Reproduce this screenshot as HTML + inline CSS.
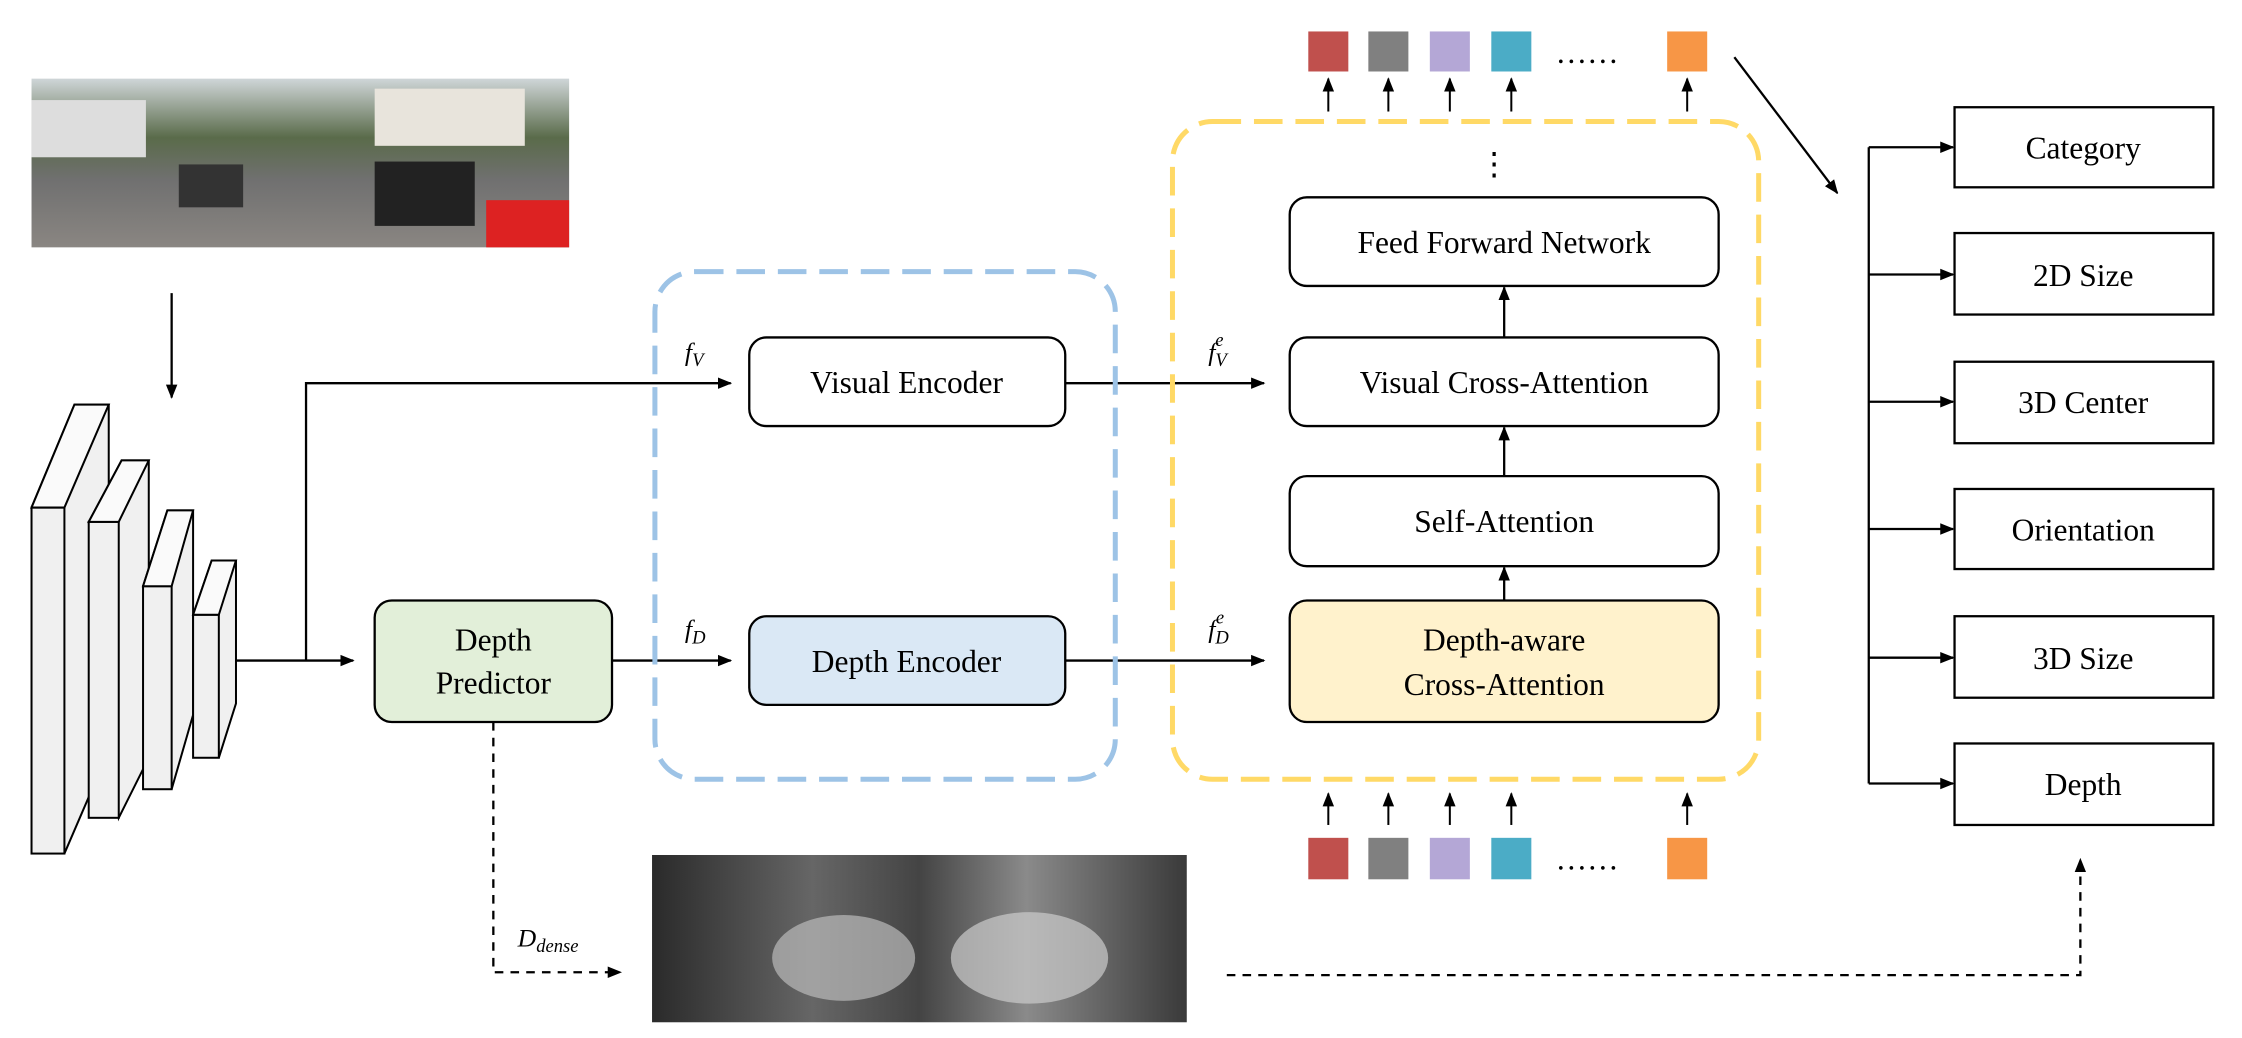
<!DOCTYPE html>
<html><head><meta charset="utf-8"><style>html,body{margin:0;padding:0;background:#fff;}svg{display:block}</style></head>
<body>
<svg width="2242" height="1038" viewBox="0 0 1568 726" xmlns="http://www.w3.org/2000/svg" font-family="Liberation Serif, serif">
<defs>
<marker id="a" markerWidth="10" markerHeight="10" refX="9" refY="5" orient="auto" markerUnits="userSpaceOnUse"><path d="M0,1 L10,5 L0,9 Z" fill="#000"/></marker>
<linearGradient id="ph" x1="0" y1="0" x2="0" y2="1"><stop offset="0" stop-color="#cfd6d8"/><stop offset="0.35" stop-color="#5a6b4a"/><stop offset="0.6" stop-color="#707070"/><stop offset="1" stop-color="#8a8682"/></linearGradient>
<linearGradient id="dp" x1="0" y1="0" x2="1" y2="0"><stop offset="0" stop-color="#2a2a2a"/><stop offset="0.3" stop-color="#666"/><stop offset="0.5" stop-color="#444"/><stop offset="0.7" stop-color="#8a8a8a"/><stop offset="1" stop-color="#3a3a3a"/></linearGradient>
</defs>
<rect width="1568" height="726" fill="#fff"/>
<!-- photo -->
<rect x="22" y="55" width="376" height="118" fill="url(#ph)"/>
<rect x="262" y="62" width="105" height="40" fill="#e8e4dc"/>
<rect x="22" y="70" width="80" height="40" fill="#ddd"/>
<rect x="262" y="113" width="70" height="45" fill="#222"/>
<rect x="125" y="115" width="45" height="30" fill="#333"/>
<rect x="340" y="140" width="58" height="33" fill="#d22"/>
<line x1="120" y1="205" x2="120" y2="278" stroke="#000" stroke-width="1.6" marker-end="url(#a)"/>
<!-- backbone blocks -->
<g stroke="#000" stroke-width="1.4" fill="#f0f0f0">
<path d="M22,355 L52,283 L76,283 L76,525 L45,597 Z"/><rect x="22" y="355" width="23" height="242"/><path d="M22,355 L52,283 L76,283 L45,355 Z" fill="#fafafa"/>
<path d="M62,365 L85,322 L104,322 L104,530 L83,572 Z"/><rect x="62" y="365" width="21" height="207"/><path d="M62,365 L85,322 L104,322 L83,365 Z" fill="#fafafa"/>
<path d="M100,410 L117,357 L135,357 L135,500 L120,552 Z"/><rect x="100" y="410" width="20" height="142"/><path d="M100,410 L117,357 L135,357 L120,410 Z" fill="#fafafa"/>
<path d="M135,430 L148,392 L165,392 L165,492 L153,530 Z"/><rect x="135" y="430" width="18" height="100"/><path d="M135,430 L148,392 L165,392 L153,430 Z" fill="#fafafa"/>
</g>
<g stroke="#000" stroke-width="1.6" fill="none">
<line x1="165" y1="462" x2="247" y2="462" marker-end="url(#a)"/>
<polyline points="214,462 214,268 511,268" marker-end="url(#a)"/>
<line x1="428" y1="462" x2="511" y2="462" marker-end="url(#a)"/>
<line x1="745" y1="268" x2="884" y2="268" marker-end="url(#a)"/>
<line x1="745" y1="462" x2="884" y2="462" marker-end="url(#a)"/>
<line x1="1052" y1="333" x2="1052" y2="299" marker-end="url(#a)"/>
<line x1="1052" y1="236" x2="1052" y2="201" marker-end="url(#a)"/>
<line x1="1052" y1="420" x2="1052" y2="397" marker-end="url(#a)"/>
<line x1="1213" y1="40" x2="1285" y2="135" marker-end="url(#a)"/>
<line x1="1307" y1="103" x2="1307" y2="548"/>
</g>
<g stroke="#000" stroke-width="1.6" stroke-dasharray="6,5" fill="none">
<polyline points="345,505 345,680 434,680" marker-end="url(#a)"/>
<polyline points="858,682 1455,682 1455,601" marker-end="url(#a)"/>
</g>
<!-- dashed containers -->
<rect x="458" y="190" width="322" height="355" rx="28" fill="none" stroke="#9dc3e6" stroke-width="3.5" stroke-dasharray="20,9"/>
<rect x="820" y="85" width="410" height="460" rx="28" fill="none" stroke="#ffd966" stroke-width="3.5" stroke-dasharray="20,9"/>
<g stroke="#000" stroke-width="1.6">
<rect x="262" y="420" width="166" height="85" rx="12" fill="#e2efd9"/>
<rect x="524" y="236" width="221" height="62" rx="12" fill="#fff"/>
<rect x="524" y="431" width="221" height="62" rx="12" fill="#dae8f5"/>
<rect x="902" y="138" width="300" height="62" rx="12" fill="#fff"/>
<rect x="902" y="236" width="300" height="62" rx="12" fill="#fff"/>
<rect x="902" y="333" width="300" height="63" rx="12" fill="#fff"/>
<rect x="902" y="420" width="300" height="85" rx="12" fill="#fff2cc"/>
<rect x="1367" y="75" width="181" height="56" fill="#fff"/>
<rect x="1367" y="163" width="181" height="57" fill="#fff"/>
<rect x="1367" y="253" width="181" height="57" fill="#fff"/>
<rect x="1367" y="342" width="181" height="56" fill="#fff"/>
<rect x="1367" y="431" width="181" height="57" fill="#fff"/>
<rect x="1367" y="520" width="181" height="57" fill="#fff"/>
</g>
<g stroke="#000" stroke-width="1.6" marker-end="url(#a)">
<line x1="1307" y1="103" x2="1366" y2="103"/><line x1="1307" y1="192" x2="1366" y2="192"/><line x1="1307" y1="281" x2="1366" y2="281"/><line x1="1307" y1="370" x2="1366" y2="370"/><line x1="1307" y1="460" x2="1366" y2="460"/><line x1="1307" y1="548" x2="1366" y2="548"/>
</g>
<g font-size="22" text-anchor="middle" fill="#000">
<text x="345" y="455">Depth</text><text x="345" y="485">Predictor</text>
<text x="634" y="275">Visual Encoder</text>
<text x="634" y="470">Depth Encoder</text>
<text x="1052" y="177">Feed Forward Network</text>
<text x="1052" y="275">Visual Cross-Attention</text>
<text x="1052" y="372">Self-Attention</text>
<text x="1052" y="455">Depth-aware</text><text x="1052" y="486">Cross-Attention</text>
<text x="1457" y="111">Category</text><text x="1457" y="200">2D Size</text><text x="1457" y="289">3D Center</text><text x="1457" y="378">Orientation</text><text x="1457" y="468">3D Size</text><text x="1457" y="556">Depth</text>
<text x="1045" y="122">⋮</text>
<text x="1110" y="44">……</text><text x="1110" y="608">……</text>
</g>
<g font-size="18" font-style="italic">
<text x="479" y="252">f<tspan font-size="13" dy="4">V</tspan></text>
<text x="479" y="446">f<tspan font-size="13" dy="4">D</tspan></text>
<text x="845" y="252">f<tspan font-size="13" dy="4">V</tspan><tspan font-size="13" dx="-8" dy="-14">e</tspan></text>
<text x="845" y="446">f<tspan font-size="13" dy="4">D</tspan><tspan font-size="13" dx="-9" dy="-14">e</tspan></text>
<text x="362" y="662">D<tspan font-size="13" dy="4">dense</tspan></text>
</g>
<!-- tokens -->
<g>
<rect x="915" y="22" width="28" height="28" fill="#c0504d"/><rect x="957" y="22" width="28" height="28" fill="#808080"/><rect x="1000" y="22" width="28" height="28" fill="#b4a7d6"/><rect x="1043" y="22" width="28" height="28" fill="#4bacc6"/><rect x="1166" y="22" width="28" height="28" fill="#f79646"/>
<rect x="915" y="586" width="28" height="29" fill="#c0504d"/><rect x="957" y="586" width="28" height="29" fill="#808080"/><rect x="1000" y="586" width="28" height="29" fill="#b4a7d6"/><rect x="1043" y="586" width="28" height="29" fill="#4bacc6"/><rect x="1166" y="586" width="28" height="29" fill="#f79646"/>
</g>
<g stroke="#000" stroke-width="1.4" marker-end="url(#a)">
<line x1="929" y1="78" x2="929" y2="55"/><line x1="971" y1="78" x2="971" y2="55"/><line x1="1014" y1="78" x2="1014" y2="55"/><line x1="1057" y1="78" x2="1057" y2="55"/><line x1="1180" y1="78" x2="1180" y2="55"/>
<line x1="929" y1="577" x2="929" y2="555"/><line x1="971" y1="577" x2="971" y2="555"/><line x1="1014" y1="577" x2="1014" y2="555"/><line x1="1057" y1="577" x2="1057" y2="555"/><line x1="1180" y1="577" x2="1180" y2="555"/>
</g>
<!-- depth image -->
<rect x="456" y="598" width="374" height="117" fill="url(#dp)"/>
<ellipse cx="590" cy="670" rx="50" ry="30" fill="#bbb" opacity="0.7"/>
<ellipse cx="720" cy="670" rx="55" ry="32" fill="#ccc" opacity="0.7"/>
</svg>
</body></html>
